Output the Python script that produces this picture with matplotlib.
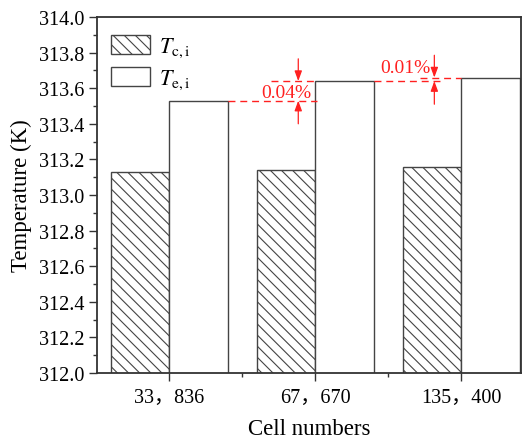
import numpy as np
import matplotlib
matplotlib.use('Agg')
import matplotlib.pyplot as plt
from matplotlib.patches import Patch
from matplotlib.ticker import MultipleLocator, FixedLocator

plt.rcParams['font.family'] = ['Liberation Serif', 'Noto Sans CJK SC']
plt.rcParams['mathtext.fontset'] = 'stix'
plt.rcParams['hatch.linewidth'] = 0.8
plt.rcParams['hatch.color'] = '#333333'

cells = ['33，836', '67，670', '135，400']
t_ci = [313.13, 313.14, 313.16]
t_ei = [313.53, 313.64, 313.66]
gaps = ['0.04%', '0.01%']

ind = np.arange(len(cells))
width = 0.4
red = '#ff2020'

fig = plt.figure(figsize=(5.25, 4.39), dpi=100)
ax = fig.add_axes([0.1848, 0.1481, 0.8076, 0.8109])

ax.bar(ind - width / 2, t_ci, width, color='white', edgecolor='#444444',
       linewidth=1.0, hatch='\\\\\\')
ax.bar(ind + width / 2, t_ei, width, color='white', edgecolor='#444444', linewidth=1.0)

ax.set_ylim(312.0, 314.0)
ax.set_xlim(-0.493, 2.408)
ax.set_yticks(np.arange(312.0, 314.01, 0.2))
ax.set_yticklabels(['%.1f' % v for v in np.arange(312.0, 314.01, 0.2)])
ax.yaxis.set_minor_locator(MultipleLocator(0.1))
ax.set_xticks(ind)
ax.set_xticklabels(cells)
ax.xaxis.set_minor_locator(FixedLocator([0.5, 1.5]))

ax.tick_params(which='major', direction='out', length=6, width=1.0, labelsize=14.5,
               color='#333333', pad=3)
ax.tick_params(which='minor', direction='out', length=3, width=1.0, color='#333333')
ax.tick_params(axis='x', pad=5)
for s in ax.spines.values():
    s.set_linewidth(1.3)
    s.set_color('#333333')

ax.set_ylabel('Temperature (K)', fontsize=16.5, labelpad=5)
ax.set_xlabel('Cell numbers', fontsize=16.5, labelpad=8)

# dashed level lines and arrows marking the relative change of T_e,i
dash = dict(color=red, linestyle=(0, (5, 3.5)), linewidth=1.0)
arrow = dict(arrowstyle='-|>,head_length=0.6,head_width=0.22', color=red, lw=0.9,
             shrinkA=0, shrinkB=0)

ax.plot([ind[0] + width, ind[1] + 0.01], [t_ei[0], t_ei[0]], **dash)
ax.plot([0.70, ind[1]], [t_ei[1], t_ei[1]], **dash)
ax.annotate('', xy=(0.884, t_ei[1]), xytext=(0.884, 313.765), arrowprops=arrow)
ax.annotate('', xy=(0.884, t_ei[0]), xytext=(0.884, 313.40), arrowprops=arrow)
ax.text(0.805, (t_ei[0] + t_ei[1]) / 2 - 0.01, gaps[0], color=red, fontsize=14,
        ha='center', va='center')

ax.plot([ind[1] + width, 1.86], [t_ei[1], t_ei[1]], **dash)
ax.plot([1.72, ind[2]], [t_ei[2], t_ei[2]], **dash)
ax.annotate('', xy=(1.815, t_ei[2]), xytext=(1.815, 313.785), arrowprops=arrow)
ax.annotate('', xy=(1.815, t_ei[1]), xytext=(1.815, 313.51), arrowprops=arrow)
ax.text(1.615, 313.715, gaps[1], color=red, fontsize=14, ha='center', va='center')

handles = [Patch(facecolor='white', edgecolor='#444444', hatch='\\\\\\', linewidth=1.0),
           Patch(facecolor='white', edgecolor='#444444', linewidth=1.0)]
ax.legend(handles, [r'$T_{\mathrm{c,i}}$', r'$T_{\mathrm{e,i}}$'], loc='upper left',
          frameon=False, fontsize=16, handlelength=1.75, handleheight=0.95,
          labelspacing=0.35, handletextpad=0.4, borderaxespad=0.0,
          bbox_to_anchor=(0.012, 0.975))

fig.savefig('out.png', dpi=100)
